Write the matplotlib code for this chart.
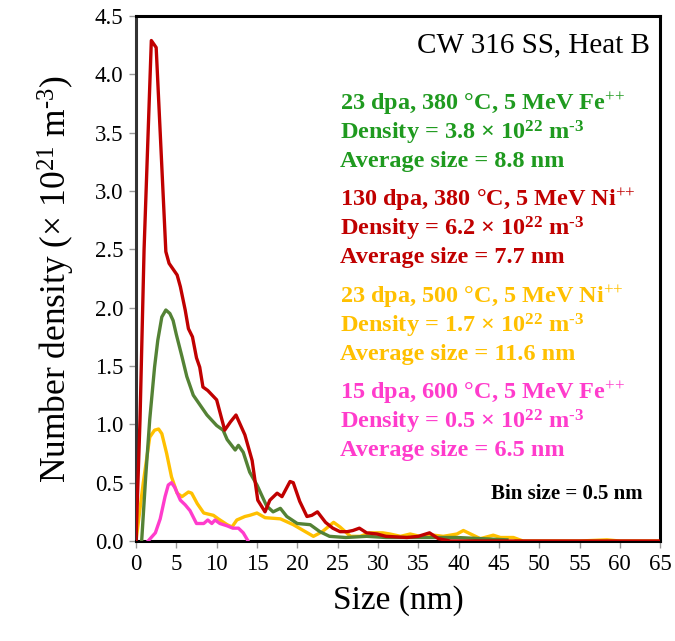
import matplotlib
matplotlib.use("Agg")
import matplotlib.pyplot as plt

plt.rcParams['font.family'] = ['Liberation Serif', 'DejaVu Serif']
plt.rcParams['mathtext.fontset'] = 'custom'
plt.rcParams['mathtext.rm'] = 'Liberation Serif'
plt.rcParams['mathtext.it'] = 'Liberation Serif:italic'
plt.rcParams['mathtext.bf'] = 'Liberation Serif:bold'

# ---- data ----
red_x = [0, 0.5, 1.0, 1.9, 2.5, 3.7, 4.1, 5.1, 5.5, 6.1, 6.5, 7.0, 7.5, 7.9, 8.3, 8.9, 10.0,
         11.0, 11.7, 12.4, 13.5, 14.4, 15.1, 16.0, 16.6, 17.5, 18.1, 19.1, 19.5, 20.3, 21.2,
         21.8, 22.5, 23.5, 24.4, 25.3, 26.2, 26.9, 27.7, 28.6, 29.9, 31.0, 33.6, 35.0, 36.4,
         37.5, 39.0, 45.0, 65.0]
red_y = [0, 1.05, 2.5, 4.29, 4.23, 2.48, 2.38, 2.28, 2.18, 1.98, 1.82, 1.75, 1.57, 1.49, 1.32,
         1.29, 1.21, 0.95, 1.02, 1.08, 0.91, 0.69, 0.35, 0.25, 0.35, 0.41, 0.38, 0.51, 0.50,
         0.34, 0.21, 0.22, 0.25, 0.16, 0.11, 0.08, 0.08, 0.09, 0.11, 0.07, 0.06, 0.04, 0.03,
         0.04, 0.07, 0.02, 0.0, 0.0, 0.0]

green_x = [0.7, 1.2, 1.7, 2.3, 2.7, 3.2, 3.7, 4.2, 4.6, 5.0, 5.7, 6.3, 7.1, 7.9, 8.8, 10.0,
           10.8, 11.3, 12.3, 12.7, 13.3, 14.1, 15.0, 16.2, 17.0, 17.9, 18.7, 20.0, 21.6, 22.8,
           24.0, 26.0, 28.6, 31.0, 35.0, 39.8, 46.0]
green_y = [0, 0.55, 1.04, 1.49, 1.72, 1.92, 1.98, 1.95, 1.89, 1.77, 1.58, 1.41, 1.25, 1.17,
           1.08, 0.99, 0.95, 0.87, 0.78, 0.82, 0.76, 0.59, 0.48, 0.30, 0.25, 0.28, 0.21, 0.15,
           0.14, 0.08, 0.04, 0.03, 0.04, 0.03, 0.03, 0.03, 0.01]

yellow_x = [0, 0.9, 1.7, 2.3, 2.8, 3.2, 3.8, 4.4, 5.1, 5.7, 6.5, 6.9, 7.6, 8.4, 9.6, 10.2,
            11.3, 11.9, 12.5, 13.5, 14.1, 15.0, 16.0, 17.9, 19.5, 21.0, 22.0, 23.1, 24.5,
            25.3, 26.6, 27.8, 29.0, 30.6, 31.5, 32.8, 34.0, 35.2, 36.9, 38.1, 39.8, 40.6,
            42.7, 44.3, 45.2, 46.8, 48.0, 55.0, 58.4, 60.0, 65.0]
yellow_y = [0, 0.50, 0.89, 0.95, 0.96, 0.92, 0.75, 0.55, 0.41, 0.38, 0.42, 0.41, 0.32, 0.24,
            0.22, 0.19, 0.14, 0.12, 0.18, 0.21, 0.22, 0.24, 0.20, 0.19, 0.14, 0.08, 0.04,
            0.08, 0.16, 0.12, 0.04, 0.04, 0.07, 0.07, 0.06, 0.04, 0.06, 0.04, 0.05, 0.04,
            0.06, 0.09, 0.02, 0.05, 0.03, 0.03, 0.0, 0.0, 0.01, 0.0, 0.0]

pink_x = [1.5, 2.4, 3.0, 3.6, 4.0, 4.4, 4.8, 5.5, 6.1, 6.7, 7.5, 8.4, 8.9, 9.4, 9.8, 10.4,
          11.3, 12.0, 12.7, 13.3, 13.9]
pink_y = [0, 0.07, 0.19, 0.38, 0.48, 0.50, 0.46, 0.35, 0.31, 0.26, 0.15, 0.15, 0.18, 0.15,
          0.18, 0.15, 0.13, 0.11, 0.11, 0.07, 0.0]

x_ticks = list(range(0, 66, 5))
y_ticks = [0.0, 0.5, 1.0, 1.5, 2.0, 2.5, 3.0, 3.5, 4.0, 4.5]

green_line, red_line, yellow_line, pink_line = '#548235', '#c00000', '#ffc000', '#ff3ccc'
green_txt, red_txt, yellow_txt, pink_txt = '#1f9a1f', '#c00000', '#ffc000', '#ff3ccc'

fig = plt.figure(figsize=(6.75, 6.41), dpi=100)
ax = fig.add_axes([0.2015, 0.156, 0.7765, 0.819])

lw = 2.4
ax.plot(green_x, green_y, color=green_line, lw=lw, zorder=3)
ax.plot(yellow_x, yellow_y, color=yellow_line, lw=lw, zorder=2)
ax.plot(red_x, red_y, color=red_line, lw=lw, zorder=4)
ax.plot(pink_x, pink_y, color=pink_line, lw=lw, zorder=5)

ax.set_xlim(0, 65)
ax.set_ylim(0, 4.5)
ax.set_xticks(x_ticks)
ax.set_xticklabels([str(t) for t in x_ticks])
ax.set_yticks(y_ticks)
ax.set_yticklabels([f"{t:.1f}" for t in y_ticks])
ax.tick_params(axis='both', direction='out', length=5, width=1, color='#999999',
               labelsize=16.5, pad=4)
for s in ax.spines.values():
    s.set_linewidth(2.2)
    s.set_color('black')
ax.spines['left'].set_color('#333333')

ax.set_xlabel('Size (nm)', fontsize=24, labelpad=8)
ax.set_ylabel('Number density (× 10$^{21}$ m$^{\u2010\\text{3}}$)', fontsize=25.5, labelpad=13)

def pxy(px, py):
    return ((px - 136) / (660 - 136) * 65, (541 - py) / (541 - 16) * 4.5)

ax.text(*pxy(650, 45), 'CW 316 SS, Heat B', fontsize=21, ha='right', va='center')

SUP = '$^{\\text{++}}$'
DEN = ' × 10$^{\\mathbf{22}}$ m$^{\\mathbf{\u20103}}$'
blocks = [
    (green_txt, 104, ['23 dpa, 380 °C, 5 MeV Fe' + SUP,
                      'Density = 3.8' + DEN,
                      'Average size = 8.8 nm']),
    (red_txt, 200, ['130 dpa, 380 °C, 5 MeV Ni' + SUP,
                    'Density = 6.2' + DEN,
                    'Average size = 7.7 nm']),
    (yellow_txt, 297, ['23 dpa, 500 °C, 5 MeV Ni' + SUP,
                       'Density = 1.7' + DEN,
                       'Average size = 11.6 nm']),
    (pink_txt, 393, ['15 dpa, 600 °C, 5 MeV Fe' + SUP,
                     'Density = 0.5' + DEN,
                     'Average size = 6.5 nm']),
]
for col, y0, lines in blocks:
    for i, ln in enumerate(lines):
        ax.text(*pxy(340, y0 + i * 28.5), ln, color=col, fontsize=17.5,
                fontweight='bold', ha='left', va='center')

ax.text(*pxy(642, 494), 'Bin size = 0.5 nm', fontsize=15, fontweight='bold',
        ha='right', va='center')

fig.savefig('out.png', dpi=100)
